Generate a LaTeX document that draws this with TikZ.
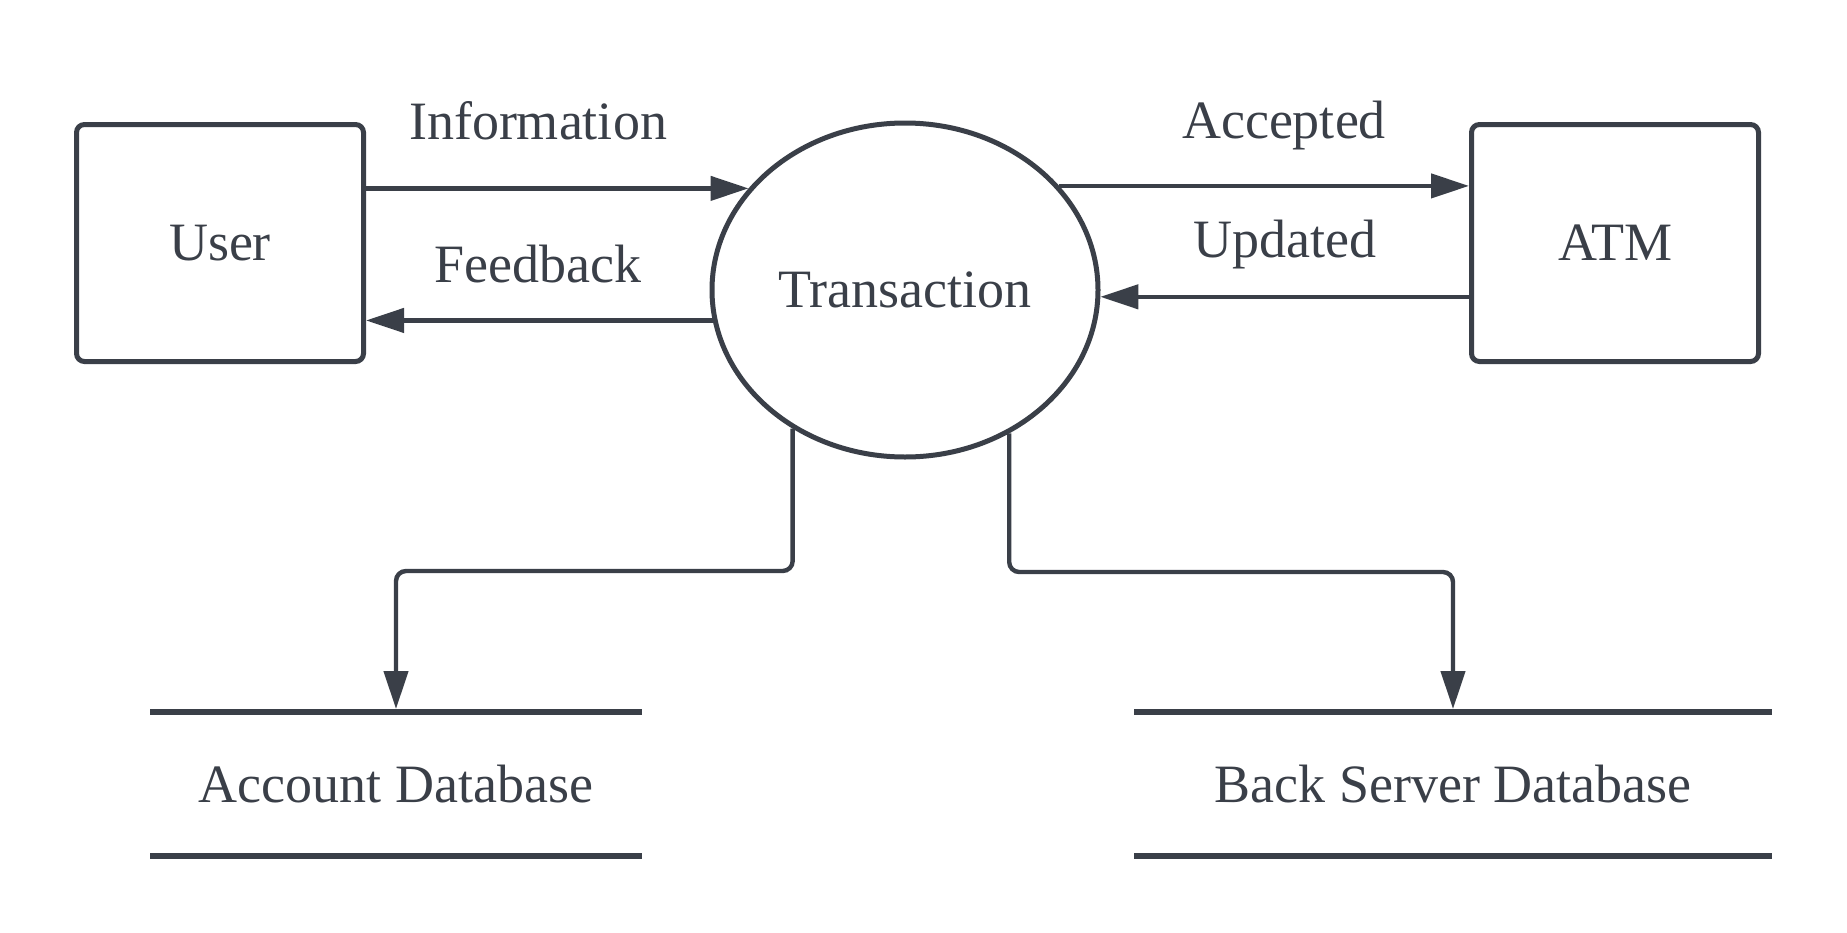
\documentclass[tikz,border=0pt]{standalone}
\usepackage{fontspec}
\setmainfont{Liberation Serif}
\usetikzlibrary{arrows.meta,shapes.geometric}
\definecolor{ink}{RGB}{58,63,72}
\begin{document}
\begin{tikzpicture}[x=0.5pt,y=-0.5pt,
  every node/.style={text=ink,font=\fontsize{27}{32}\selectfont},
  proc/.style={draw=ink,line width=2.5pt,rounded corners=4pt,minimum width=143.5pt,minimum height=118.5pt,inner sep=0pt},
  bubble/.style={draw=ink,line width=2.5pt,ellipse,minimum width=193pt,minimum height=167pt,inner sep=0pt},
  storebox/.style={minimum height=72pt,inner sep=0pt,outer sep=0pt},
  storeline/.style={draw=ink,line width=3pt},
  flow/.style={draw=ink,line width=2.2pt,-{Triangle[length=19pt,width=12pt]}},
  lbl/.style={anchor=base,inner sep=0pt}]
\useasboundingbox[fill=white] (0,0) rectangle (1847,932);

\node[proc] (user) at (220,243) {User};
\node[proc] (atm) at (1615,243) {ATM};
\node[bubble] (trans) at (905,290) {Transaction};

\node[storebox,minimum width=246pt] (acc) at (396,784) {Account Database};
\node[storebox,minimum width=319pt] (bsd) at (1453,784) {Back Server Database};
\draw[storeline] (acc.north west) -- (acc.north east);
\draw[storeline] (acc.south west) -- (acc.south east);
\draw[storeline] (bsd.north west) -- (bsd.north east);
\draw[storeline] (bsd.south west) -- (bsd.south east);

\node[lbl] (linfo) at (538,139) {Information};
\node[lbl] (lfeed) at (538,282) {Feedback};
\node[lbl] (lacc) at (1284,138) {Accepted};
\node[lbl] (lupd) at (1285,257) {Updated};

\draw[flow] (user.east |- trans.147.1) -- (trans.147.1);
\draw[flow] (trans.189.8) -- (user.east |- trans.189.8);
\draw[flow] (trans.34.1) -- (atm.west |- trans.34.1);
\draw[flow] (atm.west |- trans.-2.9) -- (trans.-2.9);

\draw[flow,rounded corners=5pt] (trans.231.4) -- (trans.231.4 |- 0,571) -| ([yshift=1.5pt]acc.north);
\draw[flow,rounded corners=5pt] (trans.306.5) -- (trans.306.5 |- 0,572) -| ([yshift=1.5pt]bsd.north);
\end{tikzpicture}
\end{document}
